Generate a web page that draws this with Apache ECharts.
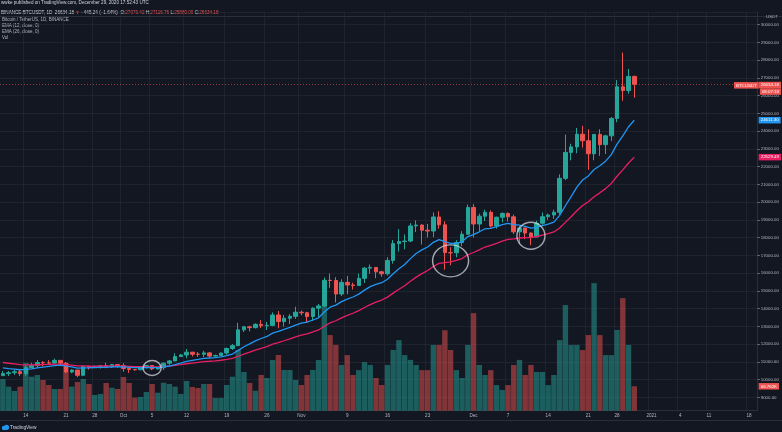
<!DOCTYPE html>
<html>
<head>
<meta charset="utf-8">
<script src="https://cdn.jsdelivr.net/npm/echarts@6/dist/echarts.min.js"></script>
<style>
  html, body { margin: 0; padding: 0; background: #131722; }
  #chart { width: 782px; height: 432px; }
</style>
</head>
<body>
<div id="chart"></div>
<script>
// daily candles Sep 10 2020 .. Dec 29 2020 : [open, close, low, high]
const candles = [
  [10220,10336,10200,10480],[10336,10387,10200,10483],[10387,10440,10261,10580],[10440,10332,10200,10575],
  [10332,10672,10212,10799],[10672,10786,10634,10940],[10786,10955,10670,11100],[10955,10941,10744,11038],
  [10941,10934,10812,11095],[10934,11080,10893,11179],[11080,10921,10760,11080],[10921,10424,10375,10988],
  [10424,10535,10354,10575],[10535,10241,10135,10540],[10241,10737,10190,10795],[10737,10692,10560,10765],
  [10692,10729,10663,10779],[10729,10775,10618,10800],[10775,10709,10635,10950],[10709,10844,10650,10860],
  [10844,10784,10665,10850],
  // Oct
  [10784,10620,10436,10920],[10620,10570,10375,10665],[10570,10550,10500,10595],[10550,10670,10530,10700],
  [10670,10790,10630,10800],[10790,10600,10530,10800],[10600,10668,10565,10685],[10668,10925,10535,10950],
  [10925,11050,10830,11100],[11050,11296,11050,11485],[11296,11384,11270,11444],[11384,11541,11200,11720],
  [11541,11429,11300,11560],[11429,11422,11280,11550],[11422,11502,11260,11625],[11502,11320,11220,11545],
  [11320,11361,11280,11400],[11361,11496,11344,11490],[11496,11750,11400,11800],[11750,11910,11670,12000],
  [11910,12800,11900,13200],[12800,12968,12680,13020],[12968,12923,12720,13030],[12923,13111,12880,13165],
  [13111,13029,12900,13350],[13029,13052,12790,13250],[13052,13636,13000,13785],[13636,13266,12888,13859],
  [13266,13455,12980,13642],[13455,13560,13126,13681],[13560,13792,13420,14100],
  // Nov
  [13792,13762,13620,13895],[13762,13550,13200,13816],[13550,14023,13300,14067],[14023,14145,13525,14259],
  [14145,15590,14093,15750],[15590,15580,15166,15968],[15580,14818,14344,15766],[14818,15475,14703,15650],
  [15475,15328,14805,15840],[15328,15297,15072,15460],[15297,15701,15272,15965],[15701,16277,15440,16340],
  [16277,16317,15952,16480],[16317,16069,15710,16317],[16069,15957,15793,16126],[15957,16713,15864,16894],
  [16713,17659,16531,17858],[17659,17776,17214,18476],[17776,17803,17335,18179],[17803,18655,17740,18815],
  [18655,18704,18308,18965],[18704,18415,17610,18750],[18415,18368,18000,18766],[18368,19160,18018,19418],
  [19160,18719,18500,19484],[18719,17149,16188,18915],[17149,17139,16438,17457],[17139,17719,16886,17853],
  [17719,18184,17518,18360],[18184,19696,18184,19863],
  // Dec
  [19696,18764,18001,19888],[18764,19204,18330,19342],[19204,19421,18925,19566],[19421,18650,18565,19527],
  [18650,19147,18500,19177],[19147,19359,18857,19420],[19359,19166,18902,19420],[19166,18324,18200,19294],
  [18324,18541,17650,18639],[18541,18254,17911,18557],[18254,18036,17572,18292],[18036,18808,18020,18948],
  [18808,19175,18711,19411],[19175,19273,19000,19349],[19273,19426,19050,19570],[19426,21335,19278,21560],
  [21335,22797,21230,23800],[22797,23107,22350,23285],[23107,23821,22750,24171],[23821,23455,23060,24295],
  [23455,22719,21815,24102],[22719,23810,22353,23837],[23810,23232,22600,24100],[23232,23729,22703,23789],
  [23729,24712,23433,24789],[24712,26493,24500,26867],[26493,26281,25700,28422],[26281,27079,26101,27500],
  [27079.42,26634.18,25880,27116.76]
];

// EMA (12, close) and EMA (26, close), same days
const ema12 = [
  10660,10618,10591,10551,10570,10603,10657,10701,10737,10790,10810,10751,10718,10645,10659,10664,10674,10690,10693,10716,10726,
  10710,10688,10667,10667,10686,10673,10672,10711,10763,10845,10928,11022,11085,11137,11193,11213,11236,11276,11349,11435,11645,11849,12014,12183,12313,12427,12613,12713,12827,12940,13071,
  13177,13234,13355,13477,13802,14076,14190,14388,14533,14650,14812,15037,15234,15362,15454,15647,15957,16237,16478,16812,17103,17305,17469,17729,17881,17769,17672,17679,17757,18055,
  18164,18324,18493,18517,18614,18729,18796,18723,18695,18627,18536,18578,18670,18763,18865,19245,19791,20301,20842,21244,21471,21831,22046,22305,22675,23262,23726,24242,24611.30
];
const ema26 = [
  10960,10918,10882,10841,10829,10826,10835,10843,10850,10867,10871,10838,10816,10773,10770,10764,10761,10762,10758,10764,10766,
  10755,10741,10727,10723,10728,10719,10715,10731,10755,10795,10839,10891,10931,10967,11007,11030,11055,11088,11137,11194,11313,11436,11546,11662,11763,11859,11990,12085,12186,12288,12399,
  12500,12578,12685,12793,13000,13191,13312,13472,13610,13735,13880,14058,14225,14362,14480,14645,14869,15084,15285,15535,15770,15966,16144,16367,16541,16586,16627,16708,16817,17030,
  17158,17310,17466,17554,17672,17797,17898,17930,17975,17996,17999,18059,18142,18225,18314,18538,18853,19168,19513,19805,20021,20302,20519,20757,21050,21453,21811,22201,22529.49
];

// volume, thousands of BTC
const volume = [
  86.7,65.7,53.9,65.7,130.5,93,97.7,84,70.3,59.4,59.4,130.5,65.7,78.5,86.7,73,43,45.7,75.8,62.9,59.4,
  92.2,75.8,35.6,37.5,51.2,73,49.2,76.6,73,65.7,45.7,81.3,64.8,62.1,73,73,34.7,34.7,70.3,93,166,105.9,75.8,54.7,97.7,89.5,138.7,152.4,111.4,111.4,84,
  70.3,97.7,111.4,138.7,289,207,180,125,152,97.7,111,133,125,89.5,70.3,125,166,193,152,139,125,111,111,180,180,220,166,111,89.5,180,
  267,125,97.7,111,70,56.6,70,125,139,97.7,125,106,106,70,97.7,193,289,180,180,166,207,349,207,152,152,221,308,180,66.762
];

// time axis labels
const tickDates = ['2020-09-14','2020-09-21','2020-09-26','2020-10-01','2020-10-06','2020-10-12','2020-10-19','2020-10-26',
  '2020-11-01','2020-11-09','2020-11-16','2020-11-23','2020-12-01','2020-12-07','2020-12-14','2020-12-21','2020-12-26',
  '2021-01-01','2021-01-06','2021-01-11','2021-01-18'];
const tickLabels = ['14','21','28','Oct','5','12','19','26','Nov','9','16','23','Dec','7','14','21','28','2021','4','11','18'];

// circled areas: [category index, price]
const circleMarks = [[26.45, 10650], [78.0, 16690], [91.5, 18100]];
const circleSizes = [[18, 15], [36, 32], [28, 27]];

const lastPrice = 26634.18;
const lastVolume = 66.762;

// one category per day, Sep 10 2020 .. Jan 19 2021 (empty days on the right)
const dates = [];
for (let i = 0; i < 132; i++) {
  const d = new Date(Date.UTC(2020, 8, 10 + i));
  dates.push(d.toISOString().slice(0, 10));
}

const UP = '#26a69a', DOWN = '#ef5350';
const volData = volume.map((v, i) => ({
  value: v,
  itemStyle: { color: candles[i][1] >= candles[i][0] ? 'rgba(38,166,154,0.5)' : 'rgba(239,83,80,0.5)' }
}));

const FONT = 'Liberation Sans';
const HIDDEN = { color: 'rgba(0,0,0,0)', width: 0 };
function boxLabel(text, bg) {
  return {
    show: true, position: 'end', distance: 1, color: '#fff', fontSize: 4.4, fontFamily: FONT,
    backgroundColor: bg, padding: [1.5, 2, 1, 2], formatter: text
  };
}

const chart = echarts.init(document.getElementById('chart'));
chart.setOption({
  animation: false,
  backgroundColor: '#131722',
  textStyle: { fontFamily: FONT },
  grid: { left: -4.22, right: 22.6, top: 12, bottom: 21.3 },
  xAxis: {
    type: 'category',
    data: dates,
    boundaryGap: true,
    axisLine: { lineStyle: { color: '#2a2e39' } },
    axisTick: { show: false },
    axisLabel: {
      color: '#b2b5be', fontSize: 4.6, margin: 2.5,
      interval: (i, v) => tickDates.indexOf(v) >= 0,
      formatter: v => tickLabels[tickDates.indexOf(v)]
    },
    splitLine: {
      show: true,
      interval: (i, v) => tickDates.indexOf(v) >= 0,
      lineStyle: { color: 'rgba(42,46,57,0.55)', width: 1 }
    }
  },
  yAxis: [{
    type: 'value',
    position: 'right',
    min: 8245, max: 30707,
    splitNumber: 20, minInterval: 1000, maxInterval: 1000,
    axisLine: { show: true, lineStyle: { color: '#2a2e39' } },
    axisTick: { show: true, length: 2, lineStyle: { color: '#787b86' } },
    axisLabel: {
      color: '#b2b5be', fontSize: 4.4, margin: 3,
      showMinLabel: false, showMaxLabel: false,
      formatter: v => v.toFixed(2)
    },
    splitLine: { lineStyle: { color: 'rgba(42,46,57,0.55)', width: 1 } }
  }, {
    type: 'value',
    min: 0, max: 1090.8,
    show: false,
    splitLine: { show: false }
  }],
  series: [{
    name: 'Vol',
    type: 'bar',
    yAxisIndex: 1,
    data: volData,
    barCategoryGap: '6%',
    markLine: {
      silent: true, symbol: 'none',
      data: [{ yAxis: lastVolume, lineStyle: HIDDEN, label: boxLabel(lastVolume.toFixed(3) + 'K', '#ef5350') }]
    }
  }, {
    name: 'EMA26',
    type: 'line',
    data: ema26,
    showSymbol: false,
    lineStyle: { color: '#e91e63', width: 1.3 },
    markLine: {
      silent: true, symbol: 'none',
      data: [{ yAxis: 22529.49, lineStyle: HIDDEN, label: boxLabel('22529.49', '#e91e63') }]
    }
  }, {
    name: 'EMA12',
    type: 'line',
    data: ema12,
    showSymbol: false,
    lineStyle: { color: '#2196f3', width: 1.3 },
    markLine: {
      silent: true, symbol: 'none',
      data: [{ yAxis: 24611.30, lineStyle: HIDDEN, label: boxLabel('24611.30', '#2196f3') }]
    }
  }, {
    name: 'BTCUSDT',
    type: 'candlestick',
    data: candles,
    barWidth: 4,
    itemStyle: { color: UP, color0: DOWN, borderColor: UP, borderColor0: DOWN, borderWidth: 1 },
    markLine: {
      silent: true, symbol: 'none',
      data: [{
        yAxis: lastPrice,
        lineStyle: { type: [1, 2], color: 'rgba(239,83,80,0.6)', width: 1 },
        label: {
          show: true, position: 'end', distance: 1, fontSize: 4.4, offset: [0, 4],
          formatter: '{a|26634.18}\n{b|08:07:18}',
          rich: {
            a: { color: '#fff', fontSize: 4.4, backgroundColor: '#ef5350', padding: [1.5, 2, 1, 2] },
            b: { color: '#fff', fontSize: 4.4, backgroundColor: '#ef5350', padding: [1.5, 2, 1, 2], align: 'right' }
          }
        }
      }, {
        yAxis: lastPrice,
        lineStyle: HIDDEN,
        label: {
          show: true, position: 'insideEndTop', distance: 0, offset: [1, 4.3], color: '#fff', fontSize: 4.4,
          backgroundColor: '#ef5350', padding: [1.5, 2, 1, 2], formatter: 'BTCUSDT'
        }
      }]
    }
  }, {
    name: 'circles',
    type: 'scatter',
    data: circleMarks.map((c, i) => ({ value: c, symbolSize: circleSizes[i] })),
    symbol: 'circle',
    silent: true,
    itemStyle: { color: 'rgba(0,0,0,0)', borderColor: 'rgba(220,222,228,0.9)', borderWidth: 1.4 },
    z: 5
  }],
  graphic: [
    { type: 'text', left: 1, top: 0.5, style: { text: 'wwke published on TradingView.com, December 29, 2020 17:52:43 UTC', fill: '#d1d4dc', fontSize: 4.6, fontFamily: FONT } },
    { type: 'text', left: 1, top: 10.5, style: {
        text: '{n|BINANCE:BTCUSDT, 1D  }{n|26634.18 }{r|▼}{n| −445.24 (−1.64%)  O:}{r|27079.42}{n| H:}{r|27116.76}{n| L:}{r|25880.00}{n| C:}{r|26634.18}',
        fontSize: 4.6, fontFamily: FONT,
        rich: { n: { fill: '#d1d4dc', fontSize: 4.6 }, r: { fill: '#ef5350', fontSize: 4.6 } }
    } },
    { type: 'line', shape: { x1: 0, y1: 16.5, x2: 782, y2: 16.5 }, style: { stroke: '#2a2e39', lineWidth: 1 } },
    { type: 'text', left: 2, top: 17, style: { text: 'Bitcoin / TetherUS, 1D, BINANCE', fill: '#b2b5be', fontSize: 4.5, fontFamily: FONT } },
    { type: 'text', left: 2, top: 23, style: { text: 'EMA (12, close, 0)', fill: '#b2b5be', fontSize: 4.5, fontFamily: FONT } },
    { type: 'text', left: 2, top: 29, style: { text: 'EMA (26, close, 0)', fill: '#b2b5be', fontSize: 4.5, fontFamily: FONT } },
    { type: 'text', left: 2, top: 35, style: { text: 'Vol', fill: '#b2b5be', fontSize: 4.5, fontFamily: FONT } },
    { type: 'text', right: 4, top: 15, style: { text: 'USDT', fill: '#b2b5be', fontSize: 4.4, fontFamily: FONT } },
    { type: 'line', shape: { x1: 0, y1: 420.5, x2: 782, y2: 420.5 }, style: { stroke: '#2a2e39', lineWidth: 1 } },
    { type: 'circle', shape: { cx: 4, cy: 428, r: 2.2 }, style: { fill: '#2196f3' } },
    { type: 'circle', shape: { cx: 6.5, cy: 427.3, r: 2.6 }, style: { fill: '#2196f3' } },
    { type: 'text', left: 10, top: 425.5, style: { text: 'TradingView', fill: '#d1d4dc', fontSize: 4.8, fontFamily: FONT } }
  ]
});
</script>
</body>
</html>
